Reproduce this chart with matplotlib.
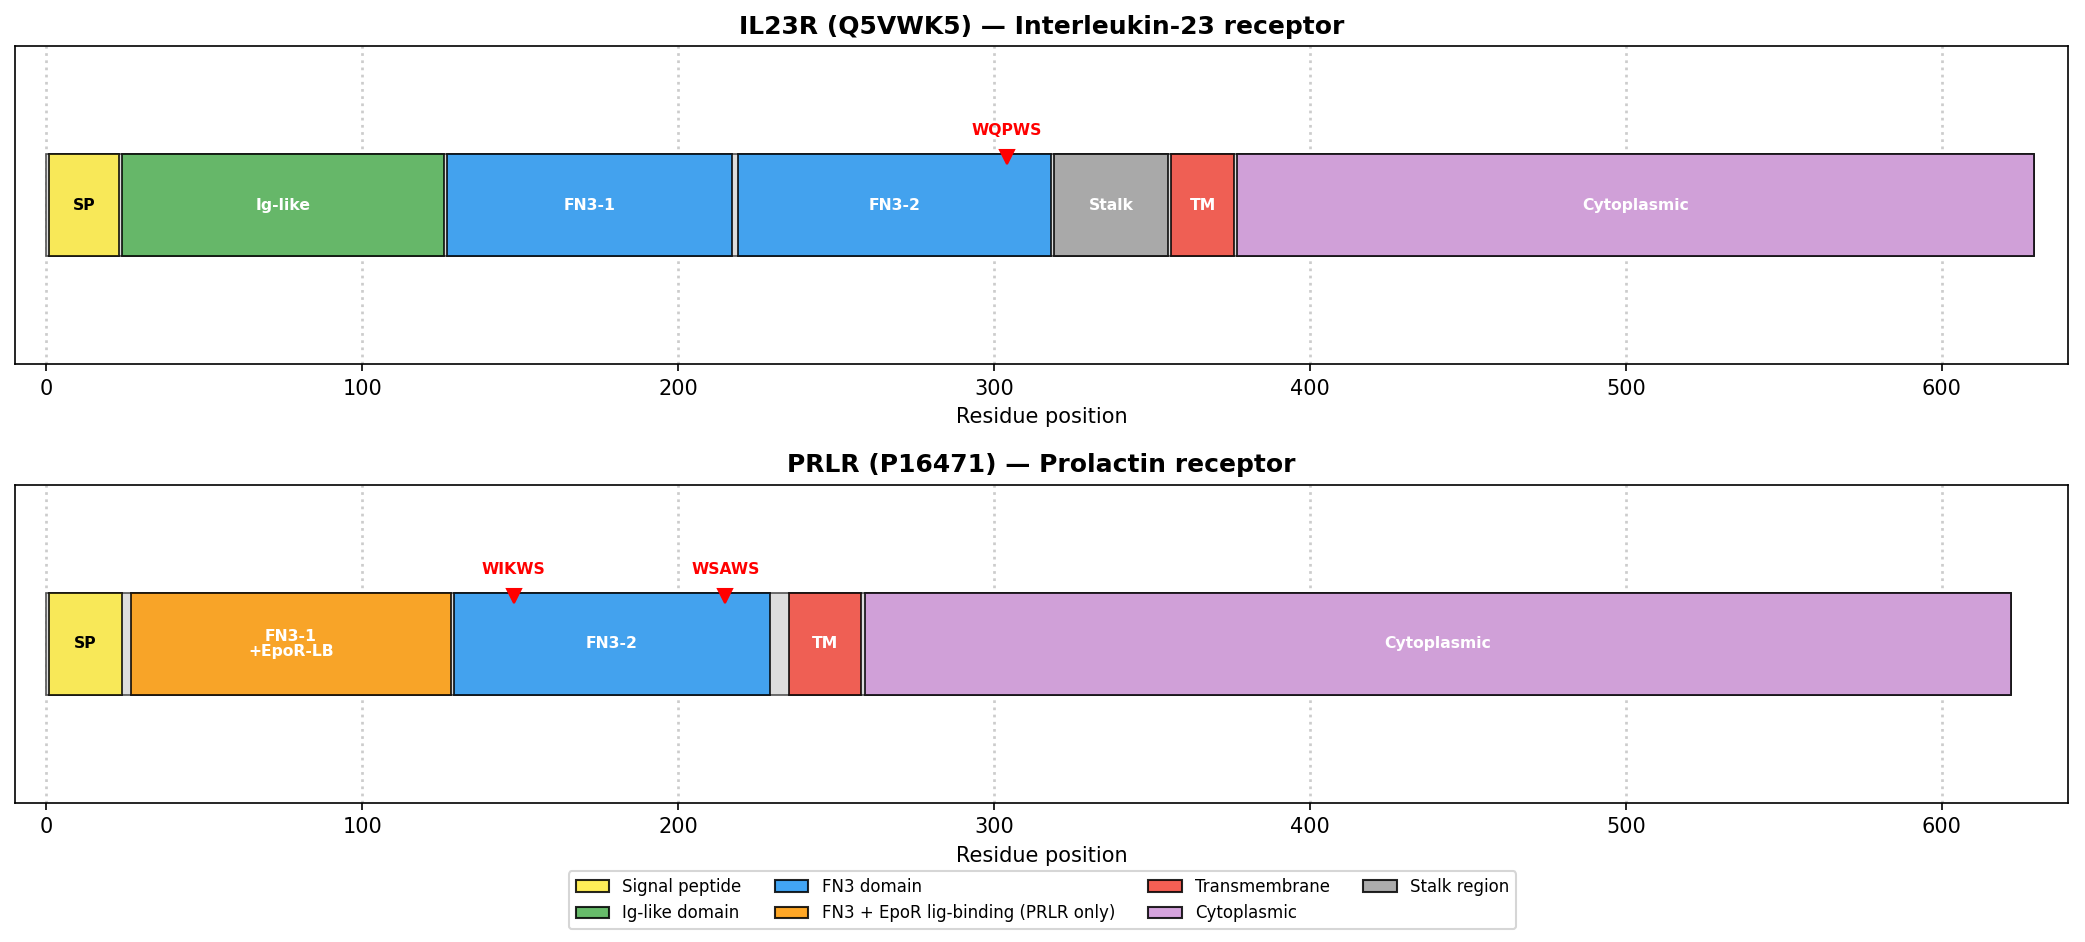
import matplotlib
matplotlib.use("Agg")
import matplotlib.pyplot as plt
from matplotlib.patches import Patch

il_len = 629
il_names = ["SP", "Ig-like", "FN3-1", "FN3-2", "Stalk", "TM", "Cytoplasmic"]
il_start = [1, 24, 127, 219, 319, 356, 377]
il_end = [23, 126, 217, 318, 355, 376, 629]
il_type = ["sp", "ig", "fn3", "fn3", "stalk", "tm", "cyto"]
il_motifs = ["WQPWS"]
il_motif_pos = [304]

pr_len = 622
pr_names = ["SP", "FN3-1\n+EpoR-LB", "FN3-2", "TM", "Cytoplasmic"]
pr_start = [1, 27, 129, 235, 259]
pr_end = [24, 128, 229, 258, 622]
pr_type = ["sp", "epor", "fn3", "tm", "cyto"]
pr_motifs = ["WIKWS", "WSAWS"]
pr_motif_pos = [148, 215]

colors = {"sp": "#FFEB3B", "ig": "#4CAF50", "fn3": "#2196F3", "epor": "#FF9800",
          "tm": "#F44336", "cyto": "#CE93D8", "stalk": "#9E9E9E"}
legend_labels = [("sp", "Signal peptide"), ("ig", "Ig-like domain"), ("fn3", "FN3 domain"),
                 ("epor", "FN3 + EpoR lig-binding (PRLR only)"), ("tm", "Transmembrane"),
                 ("cyto", "Cytoplasmic"), ("stalk", "Stalk region")]

fig, axes = plt.subplots(2, 1, figsize=(13.9, 6.28), dpi=150)
fig.subplots_adjust(left=0.007, right=0.992, top=0.951, bottom=0.148, hspace=0.38)
titles = ["IL23R (Q5VWK5) — Interleukin-23 receptor", "PRLR (P16471) — Prolactin receptor"]
data = [(il_len, il_names, il_start, il_end, il_type, il_motifs, il_motif_pos),
        (pr_len, pr_names, pr_start, pr_end, pr_type, pr_motifs, pr_motif_pos)]
h = 0.64
for ax, title, (L, names, st, en, ty, mot, mpos) in zip(axes, titles, data):
    ax.barh(0, L, left=0, height=h, color="#DDDDDD", edgecolor="#555555", linewidth=0.8, zorder=2)
    for n, s, e, t in zip(names, st, en, ty):
        ax.barh(0, e - s, left=s, height=h, color=colors[t], alpha=0.82,
                edgecolor="black", linewidth=0.9, zorder=3)
        tc = "black" if t == "sp" else "white"
        ax.text((s + e) / 2, 0, n, ha="center", va="center", fontsize=7.5, fontweight="bold",
                color=tc, zorder=4, linespacing=1.0)
    for m, p in zip(mot, mpos):
        ax.plot([p], [h / 2 - 0.02], marker="v", color="red", markersize=7, zorder=5, linestyle="none")
        ax.text(p, h / 2 + 0.1, m, ha="center", va="bottom", color="red", fontsize=7.5,
                fontweight="bold", zorder=5)
    ax.set_xlim(-10, 640)
    ax.set_ylim(-1, 1)
    ax.set_yticks([])
    ax.set_xlabel("Residue position")
    ax.set_title(title, fontsize=12, fontweight="bold")
    ax.grid(axis="x", linestyle=":", color="#CCCCCC", linewidth=1.3, zorder=0)
    ax.set_axisbelow(True)

handles = [Patch(facecolor=colors[k], edgecolor="black", label=l, alpha=0.85) for k, l in legend_labels]
fig.legend(handles=handles, loc="lower center", ncol=4, fontsize=8, bbox_to_anchor=(0.5, 0.005))
fig.savefig("out.png", dpi=150)
